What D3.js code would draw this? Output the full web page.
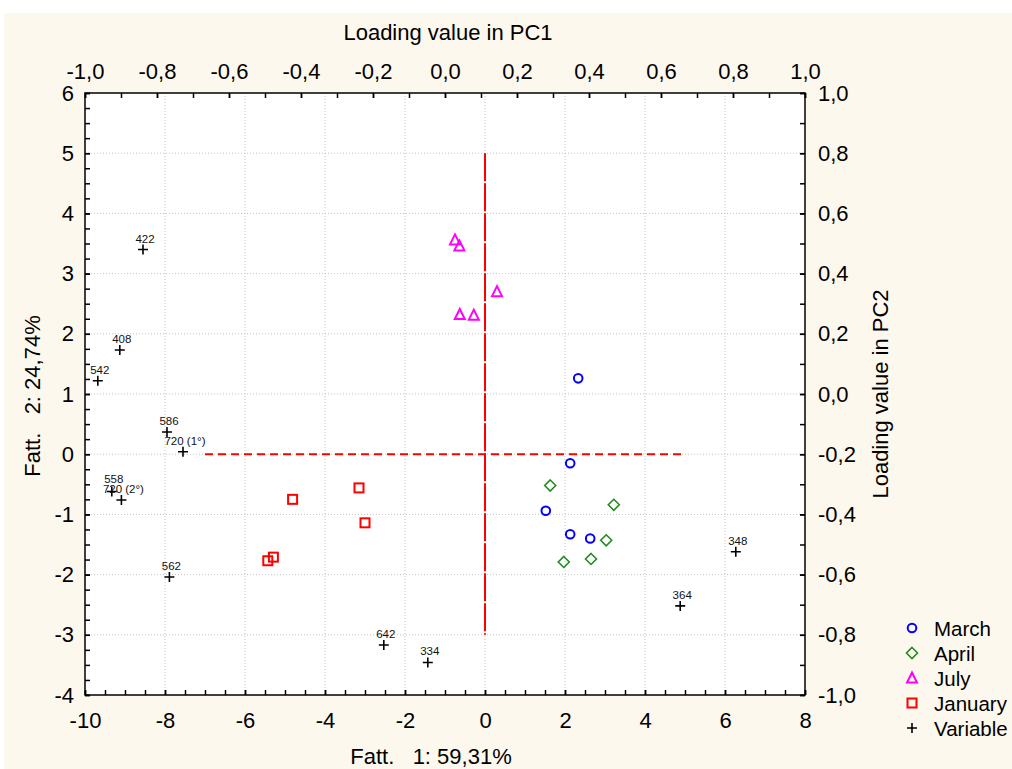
<!DOCTYPE html>
<html>
<head>
<meta charset="utf-8">
<script src="https://cdn.jsdelivr.net/npm/d3@7"></script>
<style>
  body { margin: 0; background: #fff; }
  svg { display: block; font-family: Arial, "Liberation Sans", sans-serif; }
</style>
</head>
<body>
<svg id="chart" width="1012" height="769"></svg>
<script>
// scores of the samples (PC1, PC2)
const march   = [[2.33, 1.26], [2.13, -0.15], [1.52, -0.94], [2.13, -1.33], [2.63, -1.40]];
const april   = [[1.63, -0.52], [3.22, -0.84], [3.03, -1.43], [2.65, -1.74], [1.97, -1.79]];
const july    = [[-0.75, 3.56], [-0.64, 3.46], [0.30, 2.70], [-0.63, 2.32], [-0.28, 2.31]];
const january = [[-4.81, -0.75], [-3.15, -0.56], [-3.00, -1.14], [-5.43, -1.77], [-5.29, -1.71]];

// variables
const varNames = ['422', '408', '542', '586', '720 (1°)', '558', '720 (2°)', '562', '642', '334', '364', '348'];
const varX = [-8.55, -9.13, -9.68, -7.95, -7.55, -9.33, -9.09, -7.89, -2.53, -1.43, 4.88, 6.27];
const varY = [3.40, 1.73, 1.22, 0.37, 0.04, -0.62, -0.76, -2.04, -3.17, -3.46, -2.52, -1.62];

const xTicks = [-10, -8, -6, -4, -2, 0, 2, 4, 6, 8];
const yTicks = [-4, -3, -2, -1, 0, 1, 2, 3, 4, 5, 6];
const loadTicks = [-1.0, -0.8, -0.6, -0.4, -0.2, 0.0, 0.2, 0.4, 0.6, 0.8, 1.0];

const svg = d3.select('#chart');
const pL = 85, pR = 805, pT = 93, pB = 695;
const fs = '22px';

const x = d3.scaleLinear().domain([-10, 8]).range([pL, pR]);
const y = d3.scaleLinear().domain([-4, 6]).range([pB, pT]);
const xl = d3.scaleLinear().domain([-1, 1]).range([pL, pR]);
const yl = d3.scaleLinear().domain([-1, 1]).range([pB, pT]);

const comma = d => (Math.abs(d) < 1e-9 ? 0 : d).toFixed(1).replace('.', ',');

// background
svg.append('rect').attr('x', 4).attr('y', 13).attr('width', 1008).attr('height', 756).attr('fill', '#fdf8ed');
svg.append('rect').attr('x', pL).attr('y', pT).attr('width', pR - pL).attr('height', pB - pT).attr('fill', '#fff');

// grid
const grid = svg.append('g').attr('stroke', '#c4c4c4').attr('stroke-dasharray', '1,2').attr('stroke-width', 1);
grid.selectAll('.gx').data(xTicks.slice(1, -1)).enter().append('line')
  .attr('x1', d => x(d)).attr('x2', d => x(d)).attr('y1', pT).attr('y2', pB);
grid.selectAll('.gy').data(yTicks.slice(1, -1)).enter().append('line')
  .attr('y1', d => y(d)).attr('y2', d => y(d)).attr('x1', pL).attr('x2', pR);

// axes
function styleAxis(g) {
  g.select('.domain').remove();
  g.selectAll('line').attr('stroke', '#000').attr('stroke-width', 1.5);
  g.selectAll('text').attr('fill', '#000').style('font-size', fs).style('font-family', 'Arial, "Liberation Sans", sans-serif');
}

svg.append('g').attr('transform', `translate(0,${pB})`)
  .call(d3.axisBottom(x).tickValues(d3.range(-10, 8.01, 0.5)).tickSize(-5).tickFormat(''))
  .call(styleAxis);
svg.append('g').attr('transform', `translate(0,${pB})`)
  .call(d3.axisBottom(x).tickValues(xTicks).tickSize(-5).tickPadding(17).tickFormat(d => String(d)))
  .call(styleAxis);

svg.append('g').attr('transform', `translate(${pL},0)`)
  .call(d3.axisLeft(y).tickValues(d3.range(-4, 6.01, 0.25)).tickSize(-5).tickFormat(''))
  .call(styleAxis);
svg.append('g').attr('transform', `translate(${pL},0)`)
  .call(d3.axisLeft(y).tickValues(yTicks).tickSize(-5).tickPadding(11).tickFormat(d => String(d)))
  .call(styleAxis);

svg.append('g').attr('transform', `translate(0,${pT})`)
  .call(d3.axisTop(xl).tickValues(d3.range(-1, 1.001, 0.1)).tickSize(-5).tickFormat(''))
  .call(styleAxis);
svg.append('g').attr('transform', `translate(0,${pT})`)
  .call(d3.axisTop(xl).tickValues(loadTicks).tickSize(-5).tickPadding(14).tickFormat(comma))
  .call(styleAxis);

svg.append('g').attr('transform', `translate(${pR},0)`)
  .call(d3.axisRight(yl).tickValues(d3.range(-1, 1.001, 0.1)).tickSize(-5).tickFormat(''))
  .call(styleAxis);
svg.append('g').attr('transform', `translate(${pR},0)`)
  .call(d3.axisRight(yl).tickValues(loadTicks).tickSize(-5).tickPadding(13).tickFormat(comma))
  .call(styleAxis);

// frame
svg.append('rect').attr('x', pL).attr('y', pT).attr('width', pR - pL).attr('height', pB - pT)
  .attr('fill', 'none').attr('stroke', '#000').attr('stroke-width', 1.5);

// titles
const title = (tx, ty, rot, txt) => svg.append('text')
  .attr('transform', `translate(${tx},${ty}) rotate(${rot})`)
  .attr('text-anchor', 'middle').attr('dominant-baseline', 'central')
  .style('font-size', fs).style('white-space', 'pre').attr('fill', '#000').text(txt);
title(448, 32, 0, 'Loading value in PC1');
title(431, 756, 0, 'Fatt.   1: 59,31%');
title(32, 396, -90, 'Fatt.   2: 24,74%');
title(880, 394, -90, 'Loading value in PC2');

// red reference lines
svg.append('line').attr('x1', x(0)).attr('x2', x(0)).attr('y1', y(5)).attr('y2', y(-3))
  .attr('stroke', '#f00').attr('stroke-width', 2).attr('stroke-dasharray', '28,2');
svg.append('line').attr('x1', x(-7)).attr('x2', x(5)).attr('y1', y(0)).attr('y2', y(0))
  .attr('stroke', '#f00').attr('stroke-width', 2).attr('stroke-dasharray', '8,5');

// markers
const marks = svg.append('g');
function drawShape(g, type, color, px, py) {
  if (type === 'circle') {
    g.append('circle').attr('cx', px).attr('cy', py).attr('r', 4.3)
      .attr('fill', 'none').attr('stroke', color).attr('stroke-width', 2);
  } else if (type === 'diamond') {
    g.append('path').attr('d', `M${px},${py - 5.5}L${px + 5.5},${py}L${px},${py + 5.5}L${px - 5.5},${py}Z`)
      .attr('fill', 'none').attr('stroke', color).attr('stroke-width', 1.6);
  } else if (type === 'triangle') {
    g.append('path').attr('d', `M${px},${py - 5.5}L${px + 5},${py + 4.5}L${px - 5},${py + 4.5}Z`)
      .attr('fill', 'none').attr('stroke', color).attr('stroke-width', 2);
  } else if (type === 'square') {
    g.append('rect').attr('x', px - 4.5).attr('y', py - 4.5).attr('width', 9).attr('height', 9)
      .attr('fill', 'none').attr('stroke', color).attr('stroke-width', 2);
  } else {
    g.append('path').attr('d', `M${px - 5},${py}H${px + 5}M${px},${py - 5}V${py + 5}`)
      .attr('stroke', color).attr('stroke-width', 1.6);
  }
}

const groups = [
  { name: 'March', data: march, type: 'circle', color: '#0000ff' },
  { name: 'April', data: april, type: 'diamond', color: '#228b22' },
  { name: 'July', data: july, type: 'triangle', color: '#ff00ff' },
  { name: 'January', data: january, type: 'square', color: '#ff0000' }
];
groups.forEach(gr => gr.data.forEach(d => drawShape(marks, gr.type, gr.color, x(d[0]), y(d[1]))));

varNames.forEach((n, i) => {
  drawShape(marks, 'plus', '#000', x(varX[i]), y(varY[i]));
  marks.append('text').attr('x', x(varX[i]) + 2).attr('y', y(varY[i]) - (n === '558' ? 9 : 7))
    .attr('text-anchor', 'middle').style('font-size', '11.5px').attr('fill', '#111').text(n);
});

// legend
const legendItems = groups.map(g => ({ name: g.name, type: g.type, color: g.color }))
  .concat([{ name: 'Variable', type: 'plus', color: '#000' }]);
legendItems.forEach((it, i) => {
  const ly = 628 + i * 25;
  drawShape(svg, it.type, it.color, 912, ly);
  svg.append('text').attr('x', 934).attr('y', ly).attr('dominant-baseline', 'central')
    .style('font-size', '20.5px').attr('fill', '#000').text(it.name);
});
</script>
</body>
</html>
